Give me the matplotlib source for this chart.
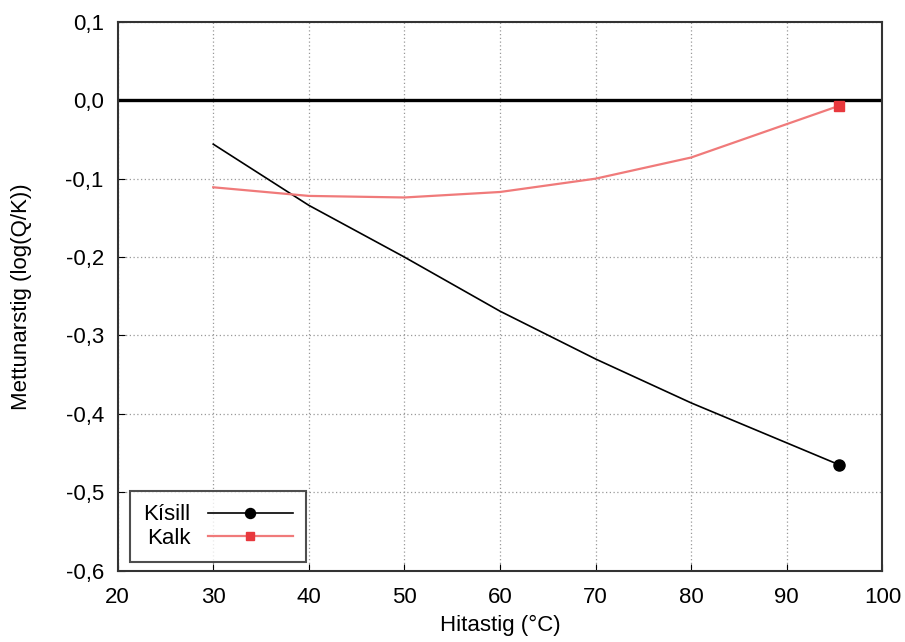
import matplotlib
matplotlib.use("Agg")
import matplotlib.pyplot as plt
from matplotlib.ticker import FuncFormatter

plt.rcParams['font.family'] = ['Liberation Sans', 'DejaVu Sans']

# data
temp = [30, 40, 50, 60, 70, 80, 95.5]
kisill = [-0.056, -0.134, -0.200, -0.269, -0.330, -0.386, -0.465]
kalk = [-0.111, -0.122, -0.124, -0.117, -0.100, -0.073, -0.007]

fig = plt.figure(figsize=(9.05, 6.42), dpi=100)
ax = fig.add_axes([0.130, 0.111, 0.845, 0.855])

ax.axhline(0, color='black', linewidth=2.4, zorder=2)
ax.plot(temp, kisill, color='black', linewidth=1.2, marker='o', markersize=8,
        markevery=[len(temp) - 1], label='Kísill', zorder=3)
ax.plot(temp, kalk, color='#f07a7a', linewidth=1.6, marker='s', markersize=7,
        markerfacecolor='#e8383d', markeredgecolor='#e8383d',
        markevery=[len(temp) - 1], label='Kalk', zorder=3)

ax.set_xlim(20, 100)
ax.set_ylim(-0.6, 0.1)
ax.set_xticks(range(20, 101, 10))
ax.set_yticks([0.1 * i for i in range(-6, 2)])
ax.yaxis.set_major_formatter(FuncFormatter(lambda v, p: f"{v:.1f}".replace('.', ',').replace('-0,0', '0,0')))
ax.grid(True, color='#999999', linestyle=(0, (1, 2)), linewidth=0.9)
ax.tick_params(direction='in', labelsize=16, length=5)
ax.tick_params(axis='y', pad=10)
ax.tick_params(axis='x', pad=12)
for s in ax.spines.values():
    s.set_linewidth(1.5)
    s.set_color('#333333')

ax.set_xlabel('Hitastig (°C)', fontsize=16, labelpad=5)
ax.set_ylabel('Mettunarstig (log(Q/K))', fontsize=16, labelpad=24)

leg = ax.legend(loc='lower left', markerfirst=False, fontsize=16, frameon=True,
                fancybox=False, edgecolor='#222222', borderpad=0.6,
                handlelength=3.8, labelspacing=0.1, markerscale=0.9,
                borderaxespad=0, bbox_to_anchor=(0.016, 0.016))
leg.get_frame().set_linewidth(1.5)
for t in leg.get_texts():
    t.set_ha('right')

fig.savefig('out.png', dpi=100)
